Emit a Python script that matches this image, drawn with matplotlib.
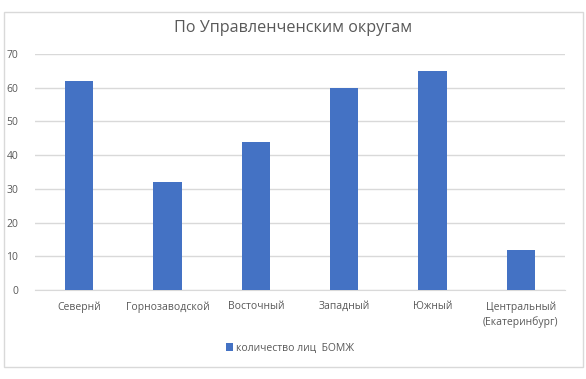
import matplotlib.pyplot as plt
import numpy as np
from matplotlib.patches import Rectangle

plt.rcParams['font.family'] = ['Open Sans', 'DejaVu Sans']

categories = ['Севернй', 'Горнозаводской', 'Восточный', 'Западный', 'Южный',
              'Центральный\n(Екатеринбург)']
values = [62, 32, 44, 60, 65, 12]
series_name = 'количество лиц  БОМЖ'

fig = plt.figure(figsize=(5.86, 3.79), dpi=100)
ax = fig.add_axes([0.0597, 0.2348, 0.9043, 0.6227])

# outer chart border like the spreadsheet export
fig.patches.append(Rectangle((4 / 586, 12 / 379), 579 / 586, 355 / 379,
                             transform=fig.transFigure, fill=False,
                             edgecolor='#D9D9D9', linewidth=1))

x = np.arange(len(categories))
ax.bar(x, values, width=0.32, color='#4472C4', label=series_name, zorder=3)

ax.set_xlim(-0.5, len(categories) - 0.5)
ax.set_ylim(0, 70)
ax.set_yticks(range(0, 71, 10))
ax.yaxis.grid(True, color='#D9D9D9', linewidth=1, zorder=0)
ax.set_xticks(x)
ax.set_xticklabels(categories, linespacing=1.45)
ax.tick_params(axis='both', length=0, labelsize=7.5, labelcolor='#595959')
ax.tick_params(axis='x', pad=8)
ax.tick_params(axis='y', pad=12)
for side in ['top', 'right', 'left']:
    ax.spines[side].set_visible(False)
ax.spines['bottom'].set_color('#D9D9D9')

fig.text(0.5, 0.926, 'По Управленченским округам', ha='center', va='center',
         fontsize=11.6, color='#595959')

fig.legend(loc='center', bbox_to_anchor=(0.495, 1 - 348 / 379), frameon=False,
           fontsize=7.5, labelcolor='#595959', handlelength=0.7, handleheight=0.7,
           handletextpad=0.3)

fig.savefig('out.png', dpi=100)
